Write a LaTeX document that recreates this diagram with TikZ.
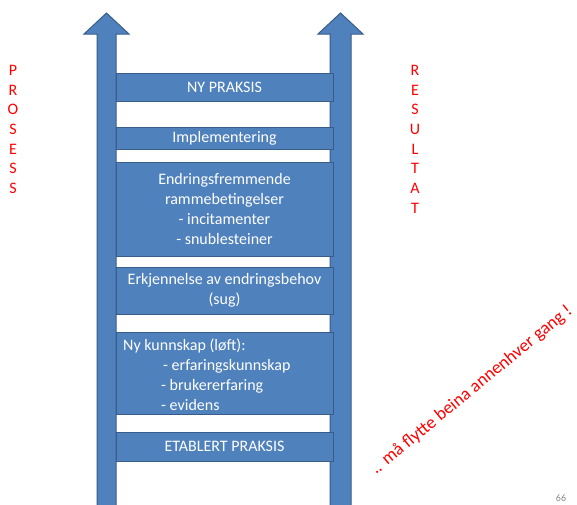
\documentclass[tikz,border=0pt]{standalone}
\usepackage{fontspec}
\setmainfont{Carlito}
\definecolor{boxblue}{HTML}{4F81BD}
\definecolor{boxedge}{HTML}{385D8A}
\definecolor{labelred}{HTML}{FF0000}
\definecolor{pagegrey}{HTML}{898989}
\begin{document}
\begin{tikzpicture}[x=1pt,y=-1pt,
  bluebox/.style={draw=boxedge, fill=boxblue, line width=1pt, text=white,
    font=\fontsize{16}{20}\selectfont, inner sep=0pt, minimum width=217pt, align=center},
  boxtext/.style={text=white, font=\fontsize{16}{20}\selectfont, inner sep=0pt, align=left},
  uparrow/.style={draw=boxedge, fill=boxblue, line width=1pt},
  sidelabel/.style={text=labelred, font=\fontsize{16}{19.7}\selectfont, align=center, inner sep=0pt, anchor=north},
  slogan/.style={text=labelred, font=\fontsize{18}{20}\selectfont, inner sep=0pt, anchor=base west, rotate=39.5}]
\useasboundingbox (0,0) rectangle (577,504);
\clip (0,0) rectangle (577,504);
\fill[white] (0,0) rectangle (577,504);
% arrows
\draw[uparrow] (97,506) -- (97,34) -- (84,34) -- (106.5,13) -- (129,34) -- (116,34) -- (116,506) -- cycle;
\draw[uparrow] (330,506) -- (330,34) -- (318,34) -- (340.5,13) -- (363,34) -- (351,34) -- (351,506) -- cycle;
% boxes
\node[bluebox, minimum height=28pt] (ny) at (224.5,87) {NY PRAKSIS};
\node[bluebox, minimum height=22pt] (impl) at (224.5,138) {Implementering};
\node[bluebox, minimum height=94pt] (endr) at (224.5,209) {Endringsfremmende\\rammebetingelser\\- incitamenter\\- snublesteiner};
\node[bluebox, minimum height=47pt] (erk) at (224.5,290.5) {Erkjennelse av endringsbehov\\(sug)};
\node[bluebox, minimum height=82pt] (kunn) at (224.5,373) {};
\node[boxtext, anchor=west] (kunntext) at (123,374.5)
  {Ny kunnskap (løft):\\\hspace*{40pt}- erfaringskunnskap\\\hspace*{38pt}- brukererfaring\\\hspace*{38pt}- evidens};
\node[bluebox, minimum height=29pt] (etab) at (224.5,446.5) {ETABLERT PRAKSIS};
% side labels
\node[sidelabel] (prosess) at (13,65) {P\\R\\O\\S\\E\\S\\S};
\node[sidelabel] (resultat) at (415,65) {R\\E\\S\\U\\L\\T\\A\\T};
\node[slogan] (flytte) at (376,475) {.. må flytte beina annenhver gang !};
\node[text=pagegrey, font=\fontsize{10}{12}\selectfont, inner sep=0pt] (page) at (561,498) {66};
\end{tikzpicture}
\end{document}
